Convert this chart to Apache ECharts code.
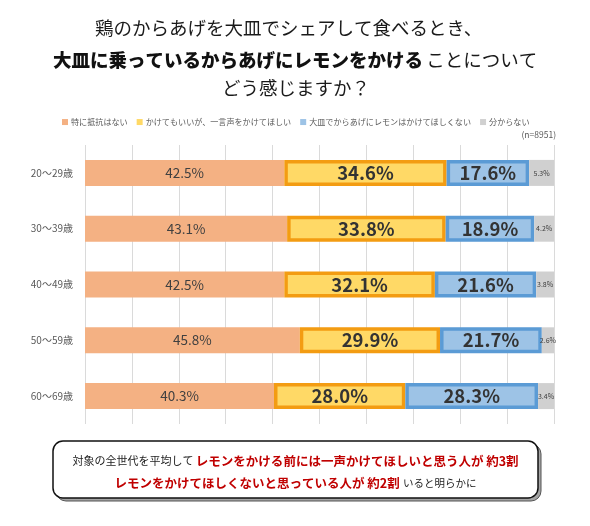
<!DOCTYPE html>
<html>
<head>
<meta charset="utf-8">
<script src="https://cdn.jsdelivr.net/npm/echarts@6/dist/echarts.min.js"></script>
<style>
html,body{margin:0;padding:0;background:#fff;}
#chart{width:590px;height:526px;}
</style>
</head>
<body>
<div id="chart"></div>
<script>
var categories = ['20～29歳', '30～39歳', '40～49歳', '50～59歳', '60～69歳'];
var seriesNames = ['特に抵抗はない', 'かけてもいいが、一言声をかけてほしい', '大皿でからあげにレモンはかけてほしくない', '分からない'];
var noObjection = [42.5, 43.1, 42.5, 45.8, 40.3];
var askFirst = [34.6, 33.8, 32.1, 29.9, 28.0];
var dontWant = [17.6, 18.9, 21.6, 21.7, 28.3];
var unknown = [5.3, 4.2, 3.8, 2.6, 3.4];
var xTicks = [0, 10, 20, 30, 40, 50, 60, 70, 80, 90, 100];

var FF = "'Noto Sans CJK JP', 'Noto Sans', sans-serif";
var fmt = function (p) { return p.value.toFixed(1) + '%'; };

var chart = echarts.init(document.getElementById('chart'), null, {renderer: 'canvas'});

var option = {
  backgroundColor: '#ffffff',
  animation: false,
  textStyle: {fontFamily: FF},
  legend: {
    left: 57,
    top: 113,
    itemWidth: 6,
    itemHeight: 6,
    itemGap: 9,
    icon: 'rect',
    itemStyle: {borderWidth: 0},
    textStyle: {fontSize: 8.1, color: '#595959', fontFamily: FF, padding: [0, 0, 0, -2]},
    data: seriesNames
  },
  grid: {left: 85, right: 36, top: 145, bottom: 102, containLabel: false},
  xAxis: {
    type: 'value',
    min: xTicks[0],
    max: xTicks[xTicks.length - 1],
    interval: xTicks[1] - xTicks[0],
    axisLabel: {show: false},
    axisLine: {show: false},
    axisTick: {show: false},
    splitLine: {show: true, lineStyle: {color: '#DADADA', width: 1}}
  },
  yAxis: {
    type: 'category',
    inverse: true,
    data: categories,
    axisLine: {show: false},
    axisTick: {show: false},
    axisLabel: {fontSize: 10, color: '#595959', margin: 12, fontFamily: FF}
  },
  series: [
    {
      name: seriesNames[0], type: 'bar', stack: 'a', barWidth: 26,
      data: noObjection,
      itemStyle: {color: '#F4B183'},
      label: {show: true, position: 'inside', formatter: fmt, fontSize: 13.5, color: '#404040', fontFamily: FF}
    },
    {
      name: seriesNames[1], type: 'bar', stack: 'a', barWidth: 26,
      data: askFirst,
      itemStyle: {color: '#FFD966', borderColor: '#F39C12', borderWidth: 3.5},
      label: {show: true, position: 'inside', formatter: fmt, fontSize: 18.5, fontWeight: 'bold', color: '#333333', fontFamily: FF}
    },
    {
      name: seriesNames[2], type: 'bar', stack: 'a', barWidth: 26,
      data: dontWant,
      itemStyle: {color: '#9DC3E6', borderColor: '#5B9BD5', borderWidth: 3.5},
      label: {show: true, position: 'inside', formatter: fmt, fontSize: 18.5, fontWeight: 'bold', color: '#333333', fontFamily: FF}
    },
    {
      name: seriesNames[3], type: 'bar', stack: 'a', barWidth: 26,
      data: unknown,
      itemStyle: {color: '#D0D0D0'},
      label: {show: true, position: 'inside', formatter: fmt, fontSize: 7, color: '#404040', fontFamily: FF}
    }
  ],
  graphic: [
    {type: 'text', left: 95, top: 19, style: {text: '鶏のからあげを大皿でシェアして食べるとき、', font: 'normal 18.5px ' + FF, fill: '#1a1a1a'}},
    {type: 'text', left: 53, top: 51, style: {
      text: '{b|大皿に乗っているからあげにレモンをかける} {n|ことについて}',
      rich: {
        b: {fontSize: 18.5, fontWeight: 900, fontFamily: FF, fill: '#111', color: '#111'},
        n: {fontSize: 18.5, fontWeight: 'normal', fontFamily: FF, fill: '#1a1a1a', color: '#1a1a1a'}
      }
    }},
    {type: 'text', left: 222, top: 79, style: {text: 'どう感じますか？', font: 'normal 18.5px ' + FF, fill: '#1a1a1a'}},
    {type: 'text', right: 34, top: 131, style: {text: '(n=8951)', font: 'normal 8.5px ' + FF, fill: '#595959'}},
    {type: 'rect', shape: {x: 56, y: 444, width: 485, height: 57, r: 10}, style: {fill: '#a5a5a5', stroke: '#555', lineWidth: 1}, z: 1},
    {type: 'rect', shape: {x: 53, y: 441, width: 485, height: 57, r: 10}, style: {fill: '#ffffff', stroke: '#111', lineWidth: 1.5}, z: 2},
    {type: 'text', x: 295.5, y: 461, z: 3, style: {
      text: '{n|対象の全世代を平均して }{r|レモンをかける前には一声かけてほしいと思う人が 約3割}',
      textAlign: 'center', textVerticalAlign: 'middle',
      rich: {
        n: {fontSize: 11, fontFamily: FF, fill: '#222', color: '#222'},
        r: {fontSize: 12.5, fontWeight: 'bold', fontFamily: FF, fill: '#C00000', color: '#C00000'}
      }
    }},
    {type: 'text', x: 295.5, y: 483, z: 3, style: {
      text: '{r|レモンをかけてほしくないと思っている人が 約2割} {n|いると明らかに}',
      textAlign: 'center', textVerticalAlign: 'middle',
      rich: {
        n: {fontSize: 10.5, fontFamily: FF, fill: '#222', color: '#222'},
        r: {fontSize: 12.5, fontWeight: 'bold', fontFamily: FF, fill: '#C00000', color: '#C00000'}
      }
    }}
  ]
};
chart.setOption(option);
</script>
</body>
</html>
